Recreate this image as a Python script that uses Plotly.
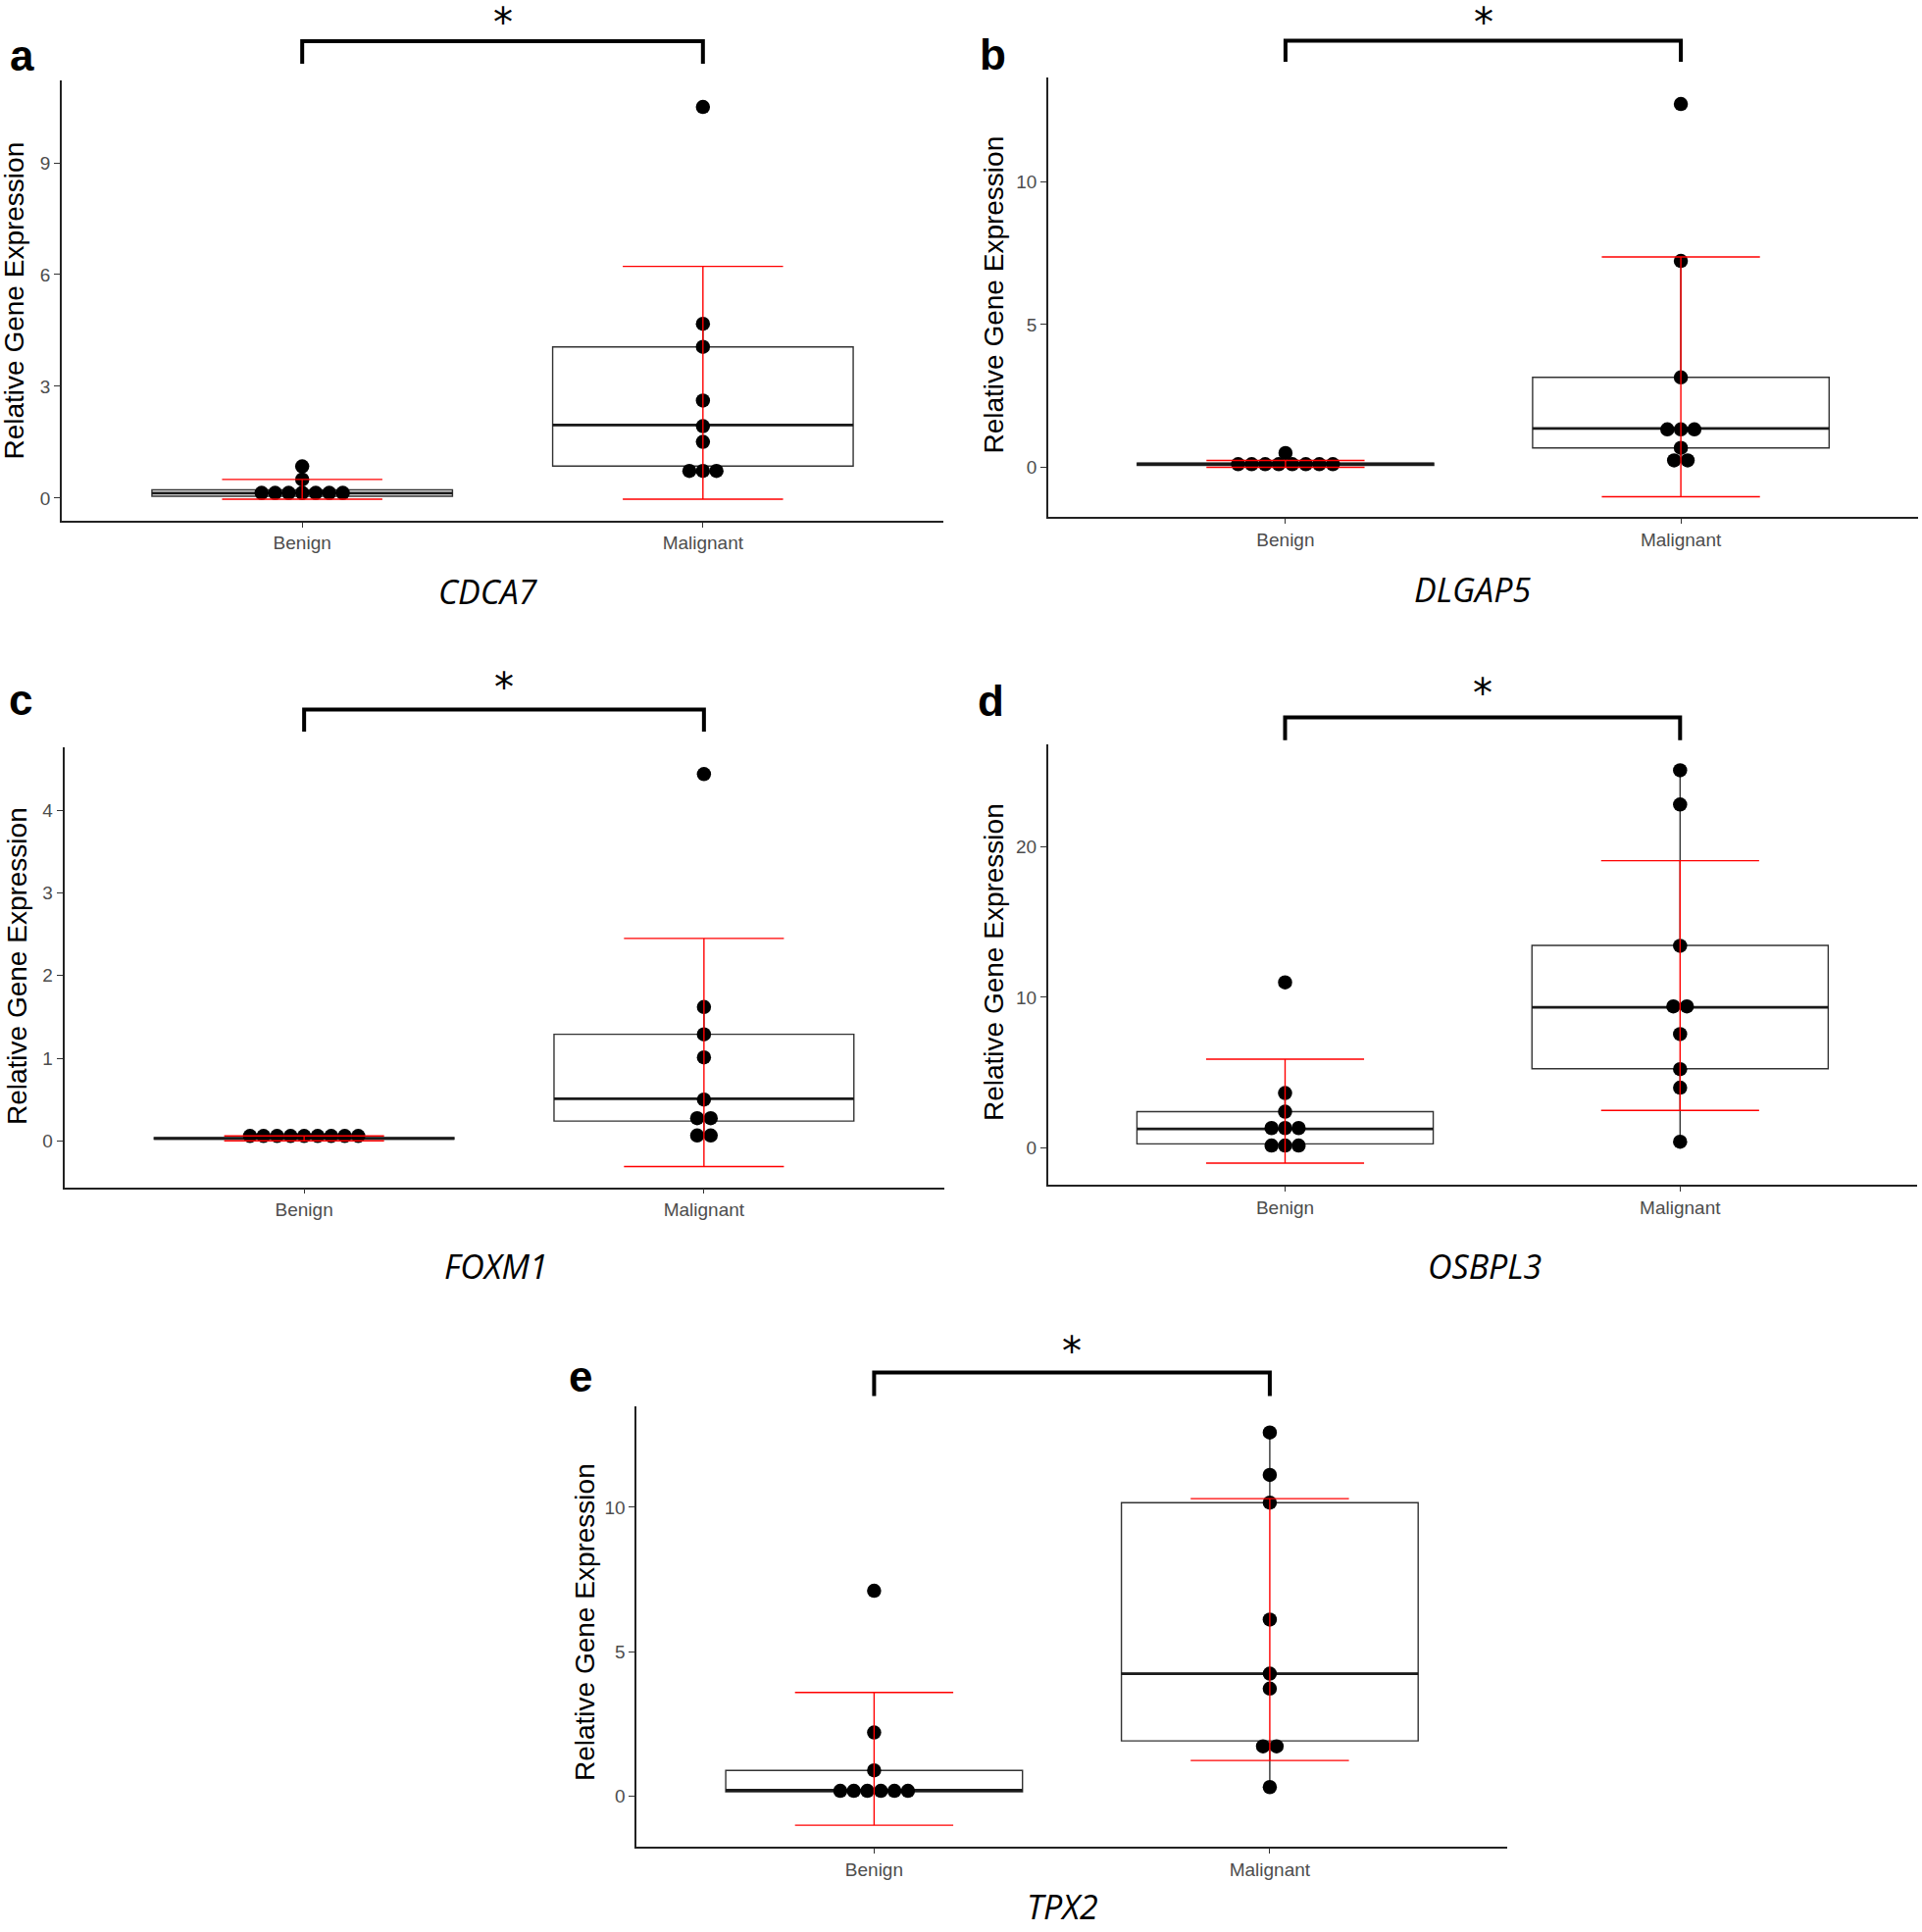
import plotly.graph_objects as go

W, H = 1960, 1970
CATS = ["Benign", "Malignant"]
YTITLE = "Relative Gene Expression"

# ---------------- data ----------------
# a: CDCA7
a_benign = [0.14, 0.14, 0.14, 0.14, 0.14, 0.14, 0.14, 0.50, 0.85]
a_malig = [10.50, 4.68, 4.06, 2.62, 1.93, 1.51, 0.73, 0.73, 0.73]
a_q1 = [0.05, 0.86]
a_med = [0.13, 1.96]
a_q3 = [0.22, 4.06]
a_lo = [0.04, 0.73]
a_hi = [0.50, 4.68]
a_mean = [0.235, 3.095]
a_sd = [0.265, 3.125]
a_ticks = [0, 3, 6, 9]

# b: DLGAP5
b_benign = [0.11, 0.11, 0.11, 0.11, 0.11, 0.11, 0.11, 0.11, 0.50]
b_malig = [12.73, 7.23, 3.15, 1.33, 1.33, 1.33, 0.68, 0.24, 0.24]
b_q1 = [0.07, 0.68]
b_med = [0.11, 1.36]
b_q3 = [0.15, 3.15]
b_lo = [0.05, 0.24]
b_hi = [0.20, 7.23]
b_mean = [0.12, 3.17]
b_sd = [0.12, 4.20]
b_ticks = [0, 5, 10]

# c: FOXM1
c_benign = [0.06, 0.06, 0.06, 0.06, 0.06, 0.06, 0.06, 0.06, 0.06]
c_malig = [4.44, 1.62, 1.29, 1.01, 0.50, 0.275, 0.275, 0.065, 0.065]
c_q1 = [0.02, 0.24]
c_med = [0.03, 0.51]
c_q3 = [0.04, 1.29]
c_lo = [0.01, 0.065]
c_hi = [0.05, 1.62]
c_mean = [0.03, 1.07]
c_sd = [0.03, 1.38]
c_ticks = [0, 1, 2, 3, 4]

# d: OSBPL3
d_benign = [10.99, 3.64, 2.41, 1.32, 1.32, 1.32, 0.16, 0.16, 0.16]
d_malig = [25.07, 22.80, 13.42, 9.40, 9.40, 7.56, 5.23, 4.00, 0.41]
d_q1 = [0.27, 5.26]
d_med = [1.26, 9.34]
d_q3 = [2.41, 13.45]
d_lo = [0.16, 0.41]
d_hi = [3.64, 25.07]
d_mean = [2.44, 10.78]
d_sd = [3.45, 8.29]
d_ticks = [0, 10, 20]

# e: TPX2
e_benign = [7.11, 2.20, 0.89, 0.18, 0.18, 0.18, 0.18, 0.18, 0.18]
e_malig = [12.59, 11.12, 10.16, 6.11, 4.24, 3.72, 1.72, 1.72, 0.31]
e_q1 = [0.15, 1.91]
e_med = [0.20, 4.24]
e_q3 = [0.89, 10.16]
e_lo = [0.15, 0.31]
e_hi = [0.89, 12.59]
e_mean = [1.29, 5.765]
e_sd = [2.30, 4.535]
e_ticks = [0, 5, 10]

genes = ["CDCA7", "DLGAP5", "FOXM1", "OSBPL3", "TPX2"]
letters = ["a", "b", "c", "d", "e"]

panels = [
    dict(benign=a_benign, malig=a_malig, q1=a_q1, med=a_med, q3=a_q3, lo=a_lo, hi=a_hi,
         mean=a_mean, sd=a_sd, ticks=a_ticks),
    dict(benign=b_benign, malig=b_malig, q1=b_q1, med=b_med, q3=b_q3, lo=b_lo, hi=b_hi,
         mean=b_mean, sd=b_sd, ticks=b_ticks),
    dict(benign=c_benign, malig=c_malig, q1=c_q1, med=c_med, q3=c_q3, lo=c_lo, hi=c_hi,
         mean=c_mean, sd=c_sd, ticks=c_ticks),
    dict(benign=d_benign, malig=d_malig, q1=d_q1, med=d_med, q3=d_q3, lo=d_lo, hi=d_hi,
         mean=d_mean, sd=d_sd, ticks=d_ticks),
    dict(benign=e_benign, malig=e_malig, q1=e_q1, med=e_med, q3=e_q3, lo=e_lo, hi=e_hi,
         mean=e_mean, sd=e_sd, ticks=e_ticks),
]

# ---------------- layout geometry (pixels) ----------------
geom = [
    dict(l=63, r=962, t=81.7, b=530.7, yr=[-0.60, 11.22]),
    dict(l=1069, r=1956, t=79, b=527.1, yr=[-1.74, 13.66]),
    dict(l=65.5, r=962.5, t=762.3, b=1210.5, yr=[-0.56, 4.76]),
    dict(l=1068.8, r=1955, t=758.9, b=1208, yr=[-2.44, 26.8]),
    dict(l=649.3, r=1537, t=1433.6, b=1883.2, yr=[-1.76, 13.51]),
]
letter_pos = [(8, 57), (997, 55), (7, 713), (995, 714), (578, 1403)]
star_pos = [23, 23, 701, 707, 1378]          # y (px) of star anchor
bracket_y = [(42, 65), (41.5, 63), (723.5, 746), (731.5, 754.7), (1399.5, 1423.6)]
ytitle_pos = [(14, 306.5), (1013, 300.5), (17, 985), (1013, 981), (596.5, 1654.5)]
gene_pos = [(497.5, 603), (1501, 601), (506, 1291), (1514, 1291), (1083, 1944)]

XR = [-0.6, 1.6]
BOXW = 0.75
DOT_PX = 13.8


def px(x):
    return x / W


def py(y):
    return 1 - y / H


def stack(values, center, step):
    xs = []
    groups = {}
    for v in values:
        groups[v] = groups.get(v, 0) + 1
    seen = {}
    for v in values:
        k = groups[v]
        i = seen.get(v, 0)
        seen[v] = i + 1
        xs.append(center + (i - (k - 1) / 2) * step)
    return xs


fig = go.Figure()
annotations = []
shapes = []
tickfont = dict(family="Liberation Sans, Arial, sans-serif", size=19, color="#4d4d4d")

for i, (p, g) in enumerate(zip(panels, geom)):
    n = "" if i == 0 else str(i + 1)
    xa, ya = "x" + n, "y" + n
    unit_px = (g["r"] - g["l"]) / (XR[1] - XR[0])
    step = DOT_PX / unit_px

    # box
    fig.add_trace(go.Box(
        x=[0, 1], q1=p["q1"], median=p["med"], q3=p["q3"],
        lowerfence=p["lo"], upperfence=p["hi"], width=BOXW, whiskerwidth=0,
        fillcolor="white", line=dict(color="#333333", width=1.4),
        boxpoints=False, showlegend=False, xaxis=xa, yaxis=ya, hoverinfo="skip"))
    # thicker median
    mx, my = [], []
    for c, m in zip([0, 1], p["med"]):
        mx += [c - BOXW / 2, c + BOXW / 2, None]
        my += [m, m, None]
    fig.add_trace(go.Scatter(x=mx, y=my, mode="lines", line=dict(color="#1a1a1a", width=2.8),
                             showlegend=False, xaxis=xa, yaxis=ya, hoverinfo="skip"))
    # dots
    dx = stack(p["benign"], 0, step) + stack(p["malig"], 1, step)
    dy = p["benign"] + p["malig"]
    fig.add_trace(go.Scatter(x=dx, y=dy, mode="markers",
                             marker=dict(size=14.5, color="black"),
                             showlegend=False, xaxis=xa, yaxis=ya))
    # mean +/- sd
    fig.add_trace(go.Scatter(
        x=[0, 1], y=p["mean"], mode="markers",
        marker=dict(size=1, color="rgba(0,0,0,0)"),
        error_y=dict(type="data", array=p["sd"], visible=True, color="#ff0000",
                     thickness=1.4, width=0.2 * unit_px),
        showlegend=False, xaxis=xa, yaxis=ya, hoverinfo="skip"))

    fig.update_layout(**{
        "xaxis" + n: dict(domain=[px(g["l"]), px(g["r"])], anchor=ya, range=XR,
                          tickvals=[0, 1], ticktext=CATS, showline=True, linecolor="#222",
                          linewidth=1.7, ticks="outside", ticklen=5, tickwidth=1.2,
                          tickcolor="#333", showgrid=False, zeroline=False,
                          tickfont=tickfont, fixedrange=True),
        "yaxis" + n: dict(domain=[py(g["b"]), py(g["t"])], anchor=xa, range=g["yr"],
                          tickvals=p["ticks"], showline=True, linecolor="#222",
                          linewidth=1.7, ticks="outside", ticklen=6, tickwidth=1.2,
                          tickcolor="#333", showgrid=False, zeroline=False,
                          tickfont=tickfont, fixedrange=True),
    })

    # significance bracket
    yb0, yb1 = bracket_y[i]
    shapes.append(dict(type="path", xref=xa, yref="paper",
                       path=f"M 0,{py(yb1)} L 0,{py(yb0)} L 1,{py(yb0)} L 1,{py(yb1)}",
                       line=dict(color="black", width=4)))
    annotations.append(dict(text="*", x=0.5, xref=xa, y=py(star_pos[i]), yref="paper",
                            showarrow=False, xanchor="center", yanchor="middle",
                            height=44, valign="middle",
                            font=dict(family="DejaVu Sans", size=40, color="black")))
    # panel letter
    lx, ly = letter_pos[i]
    annotations.append(dict(text="<b>" + letters[i] + "</b>", x=px(lx), y=py(ly),
                            xref="paper", yref="paper", showarrow=False,
                            xanchor="left", yanchor="middle",
                            font=dict(family="Liberation Sans, Arial", size=44, color="black")))
    # y title
    tx, ty = ytitle_pos[i]
    annotations.append(dict(text=YTITLE, x=px(tx), y=py(ty), xref="paper", yref="paper",
                            showarrow=False, textangle=-90, xanchor="center", yanchor="middle",
                            font=dict(family="Liberation Sans, Arial", size=28, color="black")))
    # gene name
    gx, gy = gene_pos[i]
    annotations.append(dict(text="<i>" + genes[i] + "</i>", x=px(gx), y=py(gy),
                            xref="paper", yref="paper", showarrow=False,
                            xanchor="center", yanchor="middle", height=38, valign="middle",
                            font=dict(family="Open Sans, Noto Sans", size=34, color="black")))

fig.update_layout(width=W, height=H, margin=dict(l=0, r=0, t=0, b=0),
                  paper_bgcolor="white", plot_bgcolor="white",
                  annotations=annotations, shapes=shapes, showlegend=False)

fig.write_html("out.html", config={"displayModeBar": False},
               post_script="document.body.style.margin='0px';document.body.style.padding='0px';")
